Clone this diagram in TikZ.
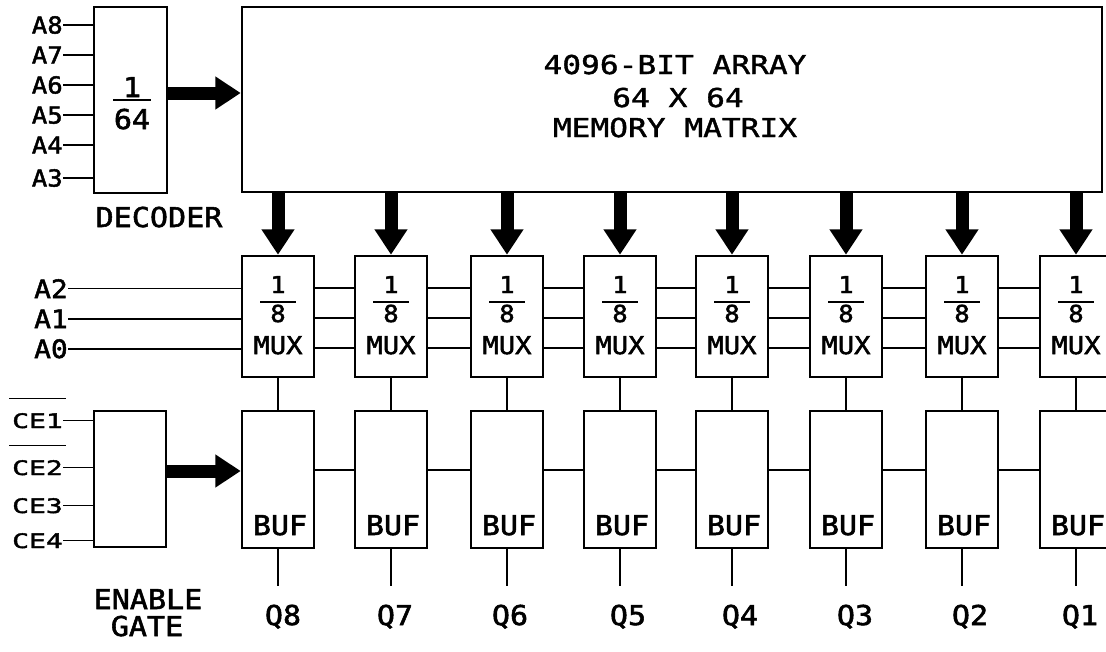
\documentclass[tikz,border=0pt]{standalone}
\usepackage{fontspec}
\newfontfamily\plotfont[FakeStretch=1.1,FakeBold=2]{DejaVu Sans Mono}
\newfontfamily\plotmem[FakeStretch=1.2,FakeBold=1.5]{DejaVu Sans Mono}
\newfontfamily\plotce[FakeStretch=1.4,FakeBold=2]{DejaVu Sans Mono}
\usetikzlibrary{arrows.meta}
\begin{document}
\begin{tikzpicture}[x=0.75pt,y=-0.75pt,
  box/.style={draw, line width=1.9pt, inner sep=0pt, minimum width=54pt},
  thin/.style={line width=1.1pt},
  mid/.style={line width=1.5pt},
  big/.style={font={\plotfont\fontsize{20.5pt}{24pt}\selectfont}, inner sep=0pt, anchor=base},
  muxt/.style={font={\plotfont\fontsize{18.5pt}{22pt}\selectfont}, inner sep=0pt, anchor=base},
  fract/.style={font={\plotfont\fontsize{17.5pt}{21pt}\selectfont}, inner sep=0pt, anchor=base},
  memt/.style={font={\plotmem\fontsize{19.5pt}{23pt}\selectfont}, inner sep=0pt, anchor=base},
  alab/.style={font={\plotfont\fontsize{17.5pt}{21pt}\selectfont}, inner sep=0pt, anchor=base east},
  alabb/.style={font={\plotfont\fontsize{19pt}{23pt}\selectfont}, inner sep=0pt, anchor=base east},
  celab/.style={font={\plotce\fontsize{15pt}{18pt}\selectfont}, inner sep=0pt, anchor=base east},
  bigarrow/.style={line width=9.75pt, -{Triangle[length=19pt,width=23.5pt]}}
]
\useasboundingbox (0,0) rectangle (1106,651);
\clip (0,0) rectangle (1106,651);
\fill[white] (0,0) rectangle (1106,651);

% main blocks
\node[box, minimum width=54.75pt, minimum height=139.5pt] (dec) at (130.5,100) {};
\node[box, minimum width=645pt, minimum height=138.75pt] (mem) at (672,99.5) {};
\node[box, minimum width=54pt, minimum height=102pt] (en) at (130,479) {};

% memory text
\node[memt] (t1) at (675,74) {4096-BIT ARRAY};
\node[memt] (t2) at (678,107) {64 X 64};
\node[memt] (t3) at (675,137) {MEMORY MATRIX};

% decoder contents
\node[big] (d1) at (132,97) {1};
\node[big] (d64) at (132,129) {64};
\draw[thin] (113,100) -- (151,100);
\node[big] (declab) at (159,227) {DECODER};

% decoder inputs
\foreach \n/\y in {8/33.5,7/63.5,6/93.5,5/123.5,4/153.5,3/186.5}{
  \node[alab] (a\n) at (63,\y) {A\n};
  \draw[thin] (a\n.east) -- (a\n.east -| dec.west);
}

% mux and buf columns
\foreach \i/\c/\qx/\n in {1/278/283/8,2/391/395/7,3/507/510/6,4/620/628/5,5/732/740/4,6/846/855/3,7/962/970/2,8/1076/1080/1}{
  \node[box, minimum height=90.75pt] (m\i) at (\c,316.5) {};
  \node[box, minimum height=102.75pt] (b\i) at (\c,479.5) {};
  \node[fract] (f1\i) at (\c,293) {1};
  \node[fract] (f8\i) at (\c,322) {8};
  \draw[thin] (\c-18,302) -- (\c+18,302);
  \node[muxt] (mx\i) at (\c,354) {MUX};
  \node[big] (bf\i) at (\c+2,535) {BUF};
  \node[big] (q\i) at (\qx,625) {Q\n};
  \draw[bigarrow] (mem.south -| m\i.north) -- (m\i.north);
  \draw[mid] (m\i.south) -- (b\i.north);
  \coordinate (o\i) at ([yshift=-27.75pt]b\i.south);
  \draw[mid] (b\i.south) -- (o\i);
}

% mux chain and buf chain
\foreach \i/\j in {1/2,2/3,3/4,4/5,5/6,6/7,7/8}{
  \draw[thin] ([yshift=21.4pt]m\i.east) -- ([yshift=21.4pt]m\j.west);
  \draw[thin] ([yshift=-1.1pt]m\i.east) -- ([yshift=-1.1pt]m\j.west);
  \draw[thin] ([yshift=-23.6pt]m\i.east) -- ([yshift=-23.6pt]m\j.west);
  \draw[thin] ([yshift=7pt]b\i.east) -- ([yshift=7pt]b\j.west);
}

% address inputs A2..A0
\node[alabb] (a2) at (68,298) {A2};
\node[alabb] (a1) at (68,328) {A1};
\node[alabb] (a0) at (68,358) {A0};
\foreach \n in {2,1,0}{
  \draw[thin] (a\n.east) -- (a\n.east -| m1.west);
}

% chip enable inputs
\node[celab] (ce1) at (63,428) {CE1};
\node[celab] (ce2) at (63,475) {CE2};
\node[celab] (ce3) at (63,513) {CE3};
\node[celab] (ce4) at (63,548) {CE4};
\foreach \n in {1,2,3,4}{
  \draw[thin] (ce\n.east) -- (ce\n.east -| en.west);
}
\draw[thin] ([xshift=-2pt,yshift=11pt]ce1.north west) -- ([xshift=2pt,yshift=11pt]ce1.north east);
\draw[thin] ([xshift=-2pt,yshift=11pt]ce2.north west) -- ([xshift=2pt,yshift=11pt]ce2.north east);
\node[big] (enl1) at (148,609) {ENABLE};
\node[big] (enl2) at (147,636) {GATE};

% thick arrows
\draw[bigarrow] ([yshift=5.25pt]dec.east) -- ([yshift=5.25pt]dec.east -| mem.west);
\draw[bigarrow] ([yshift=6pt]en.east) -- ([yshift=6pt]en.east -| b1.west);
\end{tikzpicture}
\end{document}
